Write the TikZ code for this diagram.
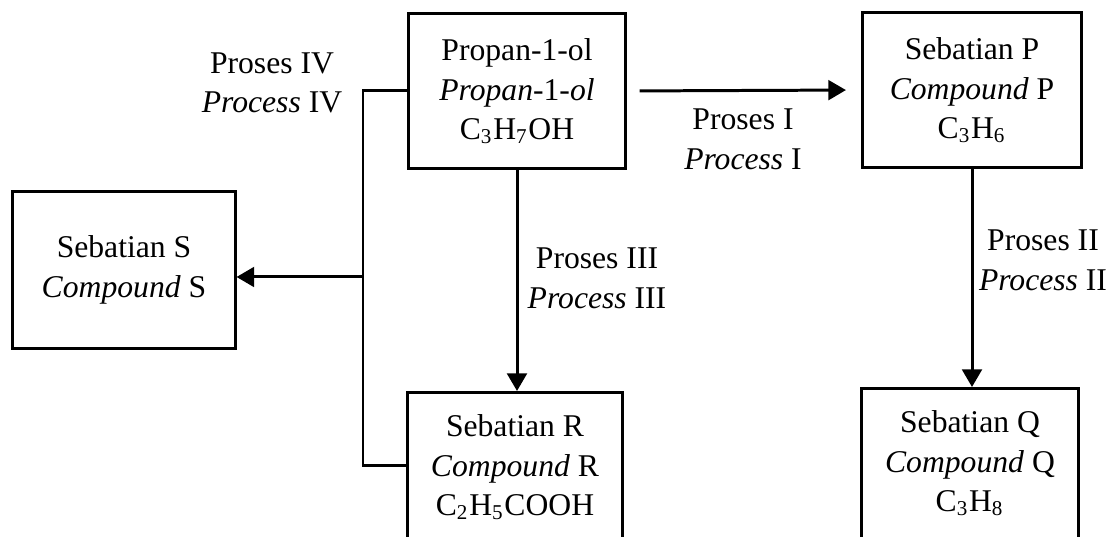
\documentclass[tikz,border=0pt]{standalone}
\usepackage{fontspec}
\setmainfont{Liberation Serif}
\usetikzlibrary{arrows.meta,positioning}
\tikzset{
  cpd box/.style={draw,line width=0.85pt,align=center,inner sep=0pt,font=\fontsize{9}{11.3}\selectfont},
  cut box/.style={cpd box,anchor=north,inner ysep=0.22cm,text depth=2cm},
  proc edge/.style={-{Triangle[length=5pt,width=5.6pt]},line width=0.85pt},
  proc line/.style={line width=0.85pt},
  proc label/.style={align=center,font=\fontsize{9}{11.3}\selectfont},
}

\begin{document}
\begin{tikzpicture}[x=0.01cm,y=0.01cm]
  \useasboundingbox (0,0) rectangle (1118,537);
  \clip (0,0) rectangle (1118,537);
  % boxes
  \node[cpd box,minimum width=2.16cm,minimum height=1.54cm] (prop) at (517,446)
    {Propan-1-ol\\\textit{Propan}-1-\textit{ol}\\C\textsubscript{3}H\textsubscript{7}OH};
  \node[cpd box,minimum width=2.19cm,minimum height=1.54cm] (cpdP) at (972,447)
    {Sebatian P\\\textit{Compound} P\\C\textsubscript{3}H\textsubscript{6}};
  \node[cpd box,minimum width=2.22cm,minimum height=1.56cm] (cpdS) at (124,267)
    {Sebatian S\\\textit{Compound} S};
  \node[cut box,minimum width=2.15cm] (cpdR) at (515,146)
    {Sebatian R\\\textit{Compound} R\\C\textsubscript{2}H\textsubscript{5}COOH};
  \node[cut box,minimum width=2.16cm] (cpdQ) at (970,150)
    {Sebatian Q\\\textit{Compound} Q\\C\textsubscript{3}H\textsubscript{8}};
  % labels
  \node[proc label] (lblI) at (743,398) {Proses I\\\textit{Process} I};
  \node[proc label] (lblII) at (1043,277) {Proses II\\\textit{Process} II};
  \node[proc label] (lblIII) at (597,259) {Proses III\\\textit{Process} III};
  \node[proc label] (lblIV) at (272,454) {Proses IV\\\textit{Process} IV};
  % connectors
  \coordinate (jbot) at (363,71);
  \coordinate (jmid) at (363,260);
  \draw[proc edge,shorten <=0.13cm,shorten >=0.15cm] (prop.east) -- (cpdP.west);
  \draw[proc edge] (cpdP.south) -- (cpdP.south |- cpdQ.north);
  \draw[proc edge] (prop.south) -- (prop.south |- cpdR.north);
  \draw[proc line] (prop.west) -| (jbot) -- (jbot -| cpdR.west);
  \draw[proc edge] (jmid) -- (jmid -| cpdS.east);
\end{tikzpicture}
\end{document}
